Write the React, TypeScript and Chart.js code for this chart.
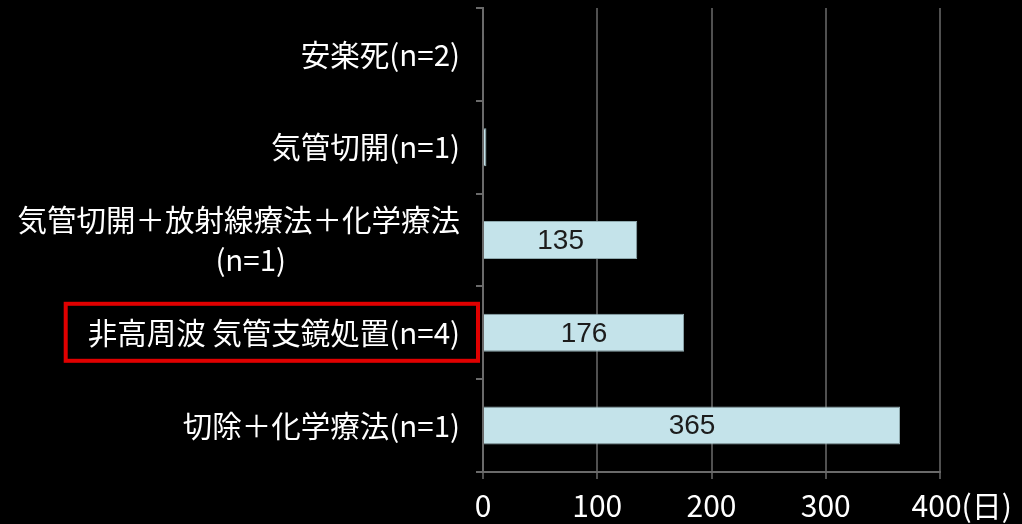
import React, { useEffect, useRef } from "react";
import { Chart, registerables } from "chart.js";

Chart.register(...registerables);

// ---- data ----
const categories: string[][] = [
  ["安楽死(n=2)"],
  ["気管切開(n=1)"],
  ["気管切開＋放射線療法＋化学療法", "(n=1)\u3000\u3000\u3000\u3000\u3000    "],
  ["非高周波 気管支鏡処置(n=4)"],
  ["切除＋化学療法(n=1)"],
];
const survivalDays = [1, 3, 135, 176, 365];
const valueLabels: (string | null)[] = [null, null, "135", "176", "365"];
const xTickValues = [0, 100, 200, 300, 400];
const xUnit = "(日)";
const highlightIndex = 3;

const LABEL_FONT = "'Liberation Sans Narrow', 'Noto Sans CJK JP', sans-serif";
const Y_FONT_SIZE = 29.5;
const Y_TICK_LEN = 7;
const Y_TICK_PAD = 16;

const overlayPlugin = {
  id: "overlay",
  afterDatasetsDraw(chart: any) {
    const ctx = chart.ctx;
    const meta = chart.getDatasetMeta(0);
    ctx.save();
    ctx.font = "28px 'Liberation Sans', Arial, sans-serif";
    ctx.fillStyle = "#1c1c1c";
    ctx.textAlign = "center";
    ctx.textBaseline = "middle";
    meta.data.forEach((bar: any, i: number) => {
      const t = valueLabels[i];
      if (!t) return;
      const { x, y, base } = bar.getProps(["x", "y", "base"], true);
      ctx.fillText(t, (x + base) / 2, y + 1);
    });
    ctx.restore();
  },
  afterDraw(chart: any) {
    const ctx = chart.ctx;
    const ys = chart.scales.y;
    const cy = ys.getPixelForValue(highlightIndex);
    ctx.save();
    ctx.font = `${Y_FONT_SIZE}px ${LABEL_FONT}`;
    const w = ctx.measureText(categories[highlightIndex][0]).width;
    const right = ys.right - Y_TICK_LEN - Y_TICK_PAD;
    ctx.strokeStyle = "#e00000";
    ctx.lineWidth = 4;
    ctx.strokeRect(right - w - 22, cy - 29, w + 40, 57);
    ctx.restore();
  },
};

export default function App() {
  const ref = useRef<HTMLCanvasElement | null>(null);
  useEffect(() => {
    if (!ref.current) return;
    const chart = new Chart(ref.current, {
      type: "bar",
      data: {
        labels: categories,
        datasets: [
          {
            data: survivalDays,
            backgroundColor: "#c4e3ea",
            borderColor: "#8fa9ae",
            borderWidth: 1,
            categoryPercentage: 1,
            barPercentage: 0.41,
          },
        ],
      },
      options: {
        indexAxis: "y",
        animation: false,
        responsive: false,
        maintainAspectRatio: false,
        layout: { padding: { top: 8, right: 82, bottom: 0, left: 0 } },
        plugins: {
          legend: { display: false },
          tooltip: { enabled: false },
        },
        scales: {
          x: {
            min: 0,
            max: 400,
            afterBuildTicks: (s: any) => {
              s.ticks = xTickValues.map((v) => ({ value: v }));
            },
            ticks: {
              color: "#ffffff",
              font: { family: LABEL_FONT, size: 30 },
              padding: 9,
              maxRotation: 0,
              autoSkip: false,
              callback: (v: any) =>
                v === xTickValues[xTickValues.length - 1]
                  ? "\u3000  " + String(v) + xUnit
                  : String(v),
            },
            grid: { color: "#505050", lineWidth: 2, tickLength: 7 },
            border: { color: "#6a6a6a", width: 2 },
            afterFit: (s: any) => {
              s.height = 52;
              s.paddingLeft = 0;
              s.paddingRight = 0;
            },
          },
          y: {
            ticks: {
              color: "#ffffff",
              font: { family: LABEL_FONT, size: Y_FONT_SIZE, lineHeight: 1.35 },
              padding: Y_TICK_PAD,
              autoSkip: false,
            },
            grid: {
              drawOnChartArea: false,
              color: "#6a6a6a",
              lineWidth: 2,
              tickLength: Y_TICK_LEN,
            },
            border: { color: "#6a6a6a", width: 2 },
            afterFit: (s: any) => {
              s.width = 483;
              s.paddingTop = 0;
              s.paddingBottom = 0;
            },
          },
        },
      },
      plugins: [overlayPlugin],
    } as any);
    return () => chart.destroy();
  }, []);
  return (
    <div
      style={{
        position: "absolute",
        left: 0,
        top: 0,
        width: 1022,
        height: 524,
        background: "#000",
      }}
    >
      <canvas ref={ref} width={1022} height={524} style={{ display: "block" }} />
    </div>
  );
}
